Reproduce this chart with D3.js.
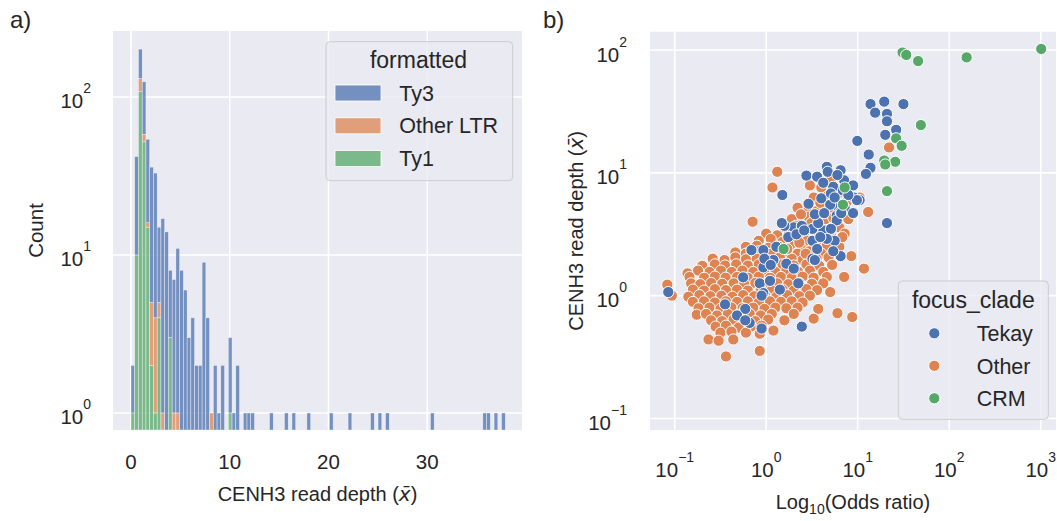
<!DOCTYPE html>
<html>
<head>
<meta charset="utf-8">
<script src="https://cdn.jsdelivr.net/npm/d3@7"></script>
<style>
  body { margin: 0; background: #ffffff; }
  svg { display: block; }
  text { font-family: "Liberation Sans", Arial, sans-serif; fill: #262626; }
</style>
</head>
<body>
<svg id="fig" width="1057" height="521"></svg>
<script>
// ---------- Panel a: stacked histogram of CENH3 read depth ----------
const binStart = 0.0;
const binWidth = 0.379;
const ty3Counts = [
  1,32,70,67,38,31,29,10,16,14,
  5,6,10,8,6,3,4,2,2,9,
  4,0,2,1,2,0,2,1,2,0,
  1,1,1,0,0,0,0,1,0,0,
  0,1,0,1,0,0,0,1,0,0,
  0,0,0,1,0,0,0,0,1,0,
  0,0,0,0,1,0,1,0,1,0,
  0,0,0,0,0,0,0,0,0,0,
  1,0,0,0,0,0,0,0,0,0,
  0,0,0,0,1,1,0,1,0,1
];
const otherLtrCounts = [
  0,0,23,6,1,3,3,1,1,0,
  0,1,1,0,0,0,0,0,0,0,
  0,1,0,0,0,0,0,0,0,0
];
const ty1Counts = [
  1,10,108,52,15,2,1,4,0,0,
  3,0,0,0,0,0,0,0,0,0,
  0,0,0,0,0,0,1,0,0,0
];
const histLegend = ["Ty3", "Other LTR", "Ty1"];
const histXTicks = [0, 10, 20, 30];
const histYTicks = [[1, "0"], [10, "1"], [100, "2"]];

// ---------- Panel b: odds ratio vs read depth, by clade ----------
const tekayPts = [
  [13.8,36.3],[19.5,38.0],[31.6,36.3],[15.5,30.9],[20.9,30.2],[20.9,26.3],[26.3,22.4],[20.0,20.4],
  [9.9,18.2],[13.2,14.1],[13.8,11.0],[12.3,9.8],[20.9,3.9],
  [2.75,9.5],[3.6,9.3],[4.6,11.2],[4.7,10.2],[6.5,10.5],[7.1,8.7],[8.9,7.9],[9.1,6.3],[4.0,6.2],
  [5.4,7.7],[6.2,5.2],[5.9,4.5],[1.5,6.6],[2.0,3.6],[4.2,3.4],[3.2,2.0],[5.6,2.8],
  [5.1,6.8],[6.9,7.2],[10.5,6.0],[7.2,5.2],[6.5,4.8],[5.9,4.1],[1.58,3.7],[2.5,3.4],[3.2,3.5],
  [5.1,3.5],[3.2,2.8],[4.6,2.9],[6.5,2.1],[3.9,3.0],[2.45,3.7],[0.93,1.7],[1.2,1.95],[1.66,1.82],
  [2.0,1.66],[0.85,1.26],[0.93,1.05],[3.4,1.95],[1.29,2.5],[0.69,2.35],[0.93,2.35],[1.1,1.32],
  [0.89,1.0],[0.355,0.85],[0.59,0.78],[0.48,0.69],[0.66,0.6],[0.89,0.54],[0.085,1.07],[1.48,3.9],
  [2.45,0.56],[0.59,0.63],[1.74,3.0],[2.14,3.16],[5.0,5.5],[6.6,4.7],[8.9,4.7],[9.8,6.0],
  [2.6,3.4],[3.7,3.9],[0.955,2.0],[1.12,1.78],[1.41,1.12],[0.56,1.41],[2.24,1.26],
  [3.4,4.6],[4.3,4.7],[5.6,6.3],[7.9,6.6],[2.9,5.6],[3.6,2.4],[5.4,2.3],[4.2,8.3],[6.0,9.6]
];
const otherPts = [
  [1.32,10.2],[1.17,7.6],[3.0,7.9],[4.0,7.6],[5.1,8.9],
  [3.3,6.3],[5.2,6.0],[10.5,6.3],
  [2.2,5.2],[4.2,5.4],[6.9,5.1],
  [2.8,4.8],[5.0,4.6],[13.0,4.8],
  [0.71,4.0],[1.9,4.2],[2.5,3.9],[3.5,4.1],[6.0,3.9],[7.9,4.2],
  [1.58,3.6],[2.1,3.7],[3.0,3.5],[4.6,3.7],[6.3,3.6],
  [1.0,3.2],[1.32,3.1],[1.78,3.3],[2.6,3.1],[3.8,3.2],[5.2,3.0],[7.2,3.2],
  [0.83,2.8],[1.12,2.9],[1.51,2.75],[2.0,2.85],[2.8,2.8],[4.2,2.9],[5.6,2.75],
  [0.60,2.5],[0.79,2.55],[1.05,2.45],[1.38,2.5],[1.82,2.55],[2.4,2.45],[3.3,2.5],[4.6,2.55],[6.3,2.5],
  [0.46,2.25],[0.60,2.2],[0.83,2.3],[1.15,2.2],[1.58,2.25],[2.2,2.2],[2.95,2.3],[4.0,2.2],[8.5,2.1],
  [0.26,2.0],[0.35,1.95],[0.46,2.05],[0.60,1.98],[0.79,2.0],[1.05,1.95],[1.41,2.05],[1.9,2.0],[2.5,1.95],[3.55,2.0],[4.8,2.05],
  [0.20,1.75],[0.275,1.8],[0.355,1.76],[0.47,1.8],[0.63,1.76],[0.83,1.8],[1.12,1.75],[1.51,1.8],[2.0,1.76],[2.75,1.8],[3.8,1.75],[5.25,1.78],
  [0.138,1.52],[0.18,1.6],[0.24,1.56],[0.32,1.6],[0.42,1.56],[0.55,1.6],[0.72,1.56],[0.955,1.6],[1.26,1.56],[1.66,1.6],[2.24,1.56],[3.0,1.6],[4.2,1.56],[11.7,1.66],
  [0.145,1.42],[0.21,1.4],[0.275,1.43],[0.36,1.4],[0.48,1.42],[0.63,1.4],[0.83,1.43],[1.1,1.4],[1.45,1.42],[1.9,1.4],[2.5,1.43],[3.3,1.4],[4.6,1.42],[7.1,1.42],
  [0.083,1.23],[0.151,1.26],[0.19,1.24],[0.25,1.27],[0.33,1.25],[0.44,1.26],[0.575,1.24],[0.76,1.27],[1.0,1.25],[1.32,1.26],[1.74,1.24],[2.3,1.27],[3.16,1.25],[4.2,1.26],
  [0.158,1.12],[0.209,1.1],[0.275,1.13],[0.363,1.11],[0.48,1.12],[0.63,1.1],[0.87,1.13],[1.15,1.11],[1.51,1.12],[2.0,1.1],[2.75,1.13],[3.6,1.11],
  [0.093,1.0],[0.141,0.98],[0.186,1.01],[0.245,0.99],[0.324,1.0],[0.427,0.98],[0.56,1.01],[0.74,0.99],[0.977,1.0],[1.29,0.98],[1.7,1.01],[2.3,0.99],[3.0,1.0],[5.0,1.07],
  [0.158,0.89],[0.209,0.9],[0.275,0.88],[0.363,0.9],[0.48,0.89],[0.63,0.9],[0.83,0.88],[1.1,0.9],[1.45,0.89],[1.9,0.9],[2.5,0.88],
  [0.182,0.79],[0.24,0.8],[0.316,0.78],[0.417,0.8],[0.55,0.79],[0.72,0.8],[0.955,0.78],[1.26,0.8],[1.66,0.79],[2.2,0.8],[3.7,0.78],
  [0.174,0.7],[0.22,0.71],[0.29,0.69],[0.38,0.71],[0.5,0.7],[0.66,0.71],[0.87,0.69],[1.15,0.71],[2.0,0.71],[6.0,0.72],
  [0.25,0.63],[0.33,0.62],[0.44,0.64],[0.575,0.63],[0.76,0.62],[1.05,0.64],[1.58,0.63],[3.3,0.65],[8.7,0.67],
  [0.28,0.56],[0.363,0.57],[0.5,0.55],[0.68,0.56],[0.89,0.57],
  [0.316,0.5],[0.417,0.51],[0.6,0.5],[0.85,0.49],[1.2,0.52],
  [0.234,0.44],[0.302,0.43],[0.437,0.44],
  [0.85,0.355],[0.363,0.32],[22,16.1],
  [2.9,4.4],[3.6,4.9],[4.4,4.2],[5.4,4.3],[3.9,5.7],[4.8,6.6],[6.3,6.9],[7.6,5.8],
  [2.4,4.6],[3.1,3.9],[4.9,3.3],[6.8,3.0],[2.3,2.7],[3.5,2.7],[1.7,2.4],[2.7,2.2]
];
const crmPts = [
  [30.9,95.5],[33.9,91.2],[45.7,81.3],[155,87.1],[1012,102],[49.0,24.5],[26.3,19.1],[30.2,16.6],
  [19.5,12.6],[25.7,12.3],[20.0,11.7],[20.9,7.1],[7.2,7.6],[6.9,5.5],[1.55,2.4]
];
const cladeLegend = ["Tekay", "Other", "CRM"];
const scatterXTicks = [[0.1, "\u22121"], [1, "0"], [10, "1"], [100, "2"], [1000, "3"]];
const scatterYTicks = [[0.1, "\u22121"], [1, "0"], [10, "1"], [100, "2"]];

// seaborn "deep" colours
const BLUE = "#4c72b0", ORANGE = "#dd8452", GREEN = "#55a868";
const BG = "#eaeaf2";

const svg = d3.select("#fig");

// ----- helpers -----
function powerLabel(g, x, y, exp, anchor) {
  const t = g.append("text").attr("x", x).attr("y", y)
    .attr("text-anchor", anchor).style("font-size", "20.5px");
  t.append("tspan").text("10");
  t.append("tspan").attr("dy", -15).style("font-size", "14px").text(exp);
  return t;
}

// ================= Panel a =================
const A = { x0: 113, x1: 522, y0: 31, y1: 430 };
const xH = d3.scaleLinear().domain([-1.82, 39.59]).range([A.x0, A.x1]);
const yH = d3.scaleLog().domain([0.78, 261.6]).range([A.y1, A.y0]);

const ga = svg.append("g");
ga.append("rect").attr("x", A.x0).attr("y", A.y0)
  .attr("width", A.x1 - A.x0).attr("height", A.y1 - A.y0).attr("fill", BG);

ga.selectAll("line.gx").data(histXTicks).join("line")
  .attr("x1", d => xH(d)).attr("x2", d => xH(d))
  .attr("y1", A.y0).attr("y2", A.y1)
  .attr("stroke", "#fff").attr("stroke-width", 1.6);
ga.selectAll("line.gy").data(histYTicks).join("line")
  .attr("y1", d => yH(d[0])).attr("y2", d => yH(d[0]))
  .attr("x1", A.x0).attr("x2", A.x1)
  .attr("stroke", "#fff").attr("stroke-width", 1.6);

// stacked bars: Ty1 at the bottom, Other LTR, then Ty3 on top
const stackOrder = [
  { counts: ty1Counts, color: GREEN },
  { counts: otherLtrCounts, color: ORANGE },
  { counts: ty3Counts, color: BLUE }
];
const bars = [];
ty3Counts.forEach((_, i) => {
  let base = 0;
  stackOrder.forEach(s => {
    const c = s.counts[i] || 0;
    if (c > 0) {
      bars.push({ i, lo: base, hi: base + c, color: s.color });
      base += c;
    }
  });
});
ga.append("clipPath").attr("id", "clipA").append("rect")
  .attr("x", A.x0).attr("y", A.y0).attr("width", A.x1 - A.x0).attr("height", A.y1 - A.y0);
ga.append("g").attr("clip-path", "url(#clipA)")
  .selectAll("rect").data(bars).join("rect")
  .attr("x", d => xH(binStart + d.i * binWidth))
  .attr("width", d => xH(binStart + (d.i + 1) * binWidth) - xH(binStart + d.i * binWidth))
  .attr("y", d => yH(d.hi))
  .attr("height", d => (d.lo > 0 ? yH(d.lo) : A.y1) - yH(d.hi))
  .attr("fill", d => d.color).attr("fill-opacity", 0.75)
  .attr("stroke", "#fff").attr("stroke-opacity", 0.75).attr("stroke-width", 0.5);

// axis tick labels
ga.selectAll("text.xt").data(histXTicks).join("text")
  .attr("x", d => xH(d)).attr("y", 469).attr("text-anchor", "middle")
  .style("font-size", "20.5px").text(d => d);
histYTicks.forEach(d => powerLabel(ga, 91, yH(d[0]) + 11.3, d[1], "end"));

ga.append("text").attr("x", (A.x0 + A.x1) / 2).attr("y", 501).attr("text-anchor", "middle")
  .style("font-size", "20px")
  .call(t => {
    t.append("tspan").text("CENH3 read depth (");
    t.append("tspan").style("font-family", "'DejaVu Sans'").style("font-style", "italic").text("x\u0304");
    t.append("tspan").text(")");
  });
ga.append("text").attr("transform", `translate(42.5,${(A.y0 + A.y1) / 2}) rotate(-90)`)
  .attr("text-anchor", "middle").style("font-size", "20.5px").text("Count");
svg.append("text").attr("x", 10).attr("y", 28).style("font-size", "24px").text("a)");

// legend
const la = ga.append("g");
la.append("rect").attr("x", 326).attr("y", 41.7).attr("width", 186.7).attr("height", 139)
  .attr("rx", 4).attr("fill", BG).attr("fill-opacity", 0.8)
  .attr("stroke", "#cccccc").attr("stroke-width", 1);
la.append("text").attr("x", 418.5).attr("y", 68.3).attr("text-anchor", "middle")
  .style("font-size", "23px").text("formatted");
const histLegendColors = [BLUE, ORANGE, GREEN];
histLegend.forEach((name, k) => {
  const top = 85 + k * 32.8;
  la.append("rect").attr("x", 335).attr("y", top).attr("width", 46).attr("height", 16)
    .attr("fill", histLegendColors[k]).attr("fill-opacity", 0.75)
    .attr("stroke", "#fff").attr("stroke-width", 0.8);
  la.append("text").attr("x", 399.3).attr("y", top + 15.5)
    .style("font-size", "21.5px").text(name);
});

// ================= Panel b =================
const B = { x0: 650, x1: 1056, y0: 31.7, y1: 430 };
const xS = d3.scaleLog().domain([0.0537, 1469]).range([B.x0, B.x1]);
const yS = d3.scaleLog().domain([0.0806, 141]).range([B.y1, B.y0]);

const gb = svg.append("g");
gb.append("rect").attr("x", B.x0).attr("y", B.y0)
  .attr("width", B.x1 - B.x0).attr("height", B.y1 - B.y0).attr("fill", BG);
gb.selectAll("line.gx").data(scatterXTicks).join("line")
  .attr("x1", d => xS(d[0])).attr("x2", d => xS(d[0]))
  .attr("y1", B.y0).attr("y2", B.y1)
  .attr("stroke", "#fff").attr("stroke-width", 1.6);
gb.selectAll("line.gy").data(scatterYTicks).join("line")
  .attr("y1", d => yS(d[0])).attr("y2", d => yS(d[0]))
  .attr("x1", B.x0).attr("x2", B.x1)
  .attr("stroke", "#fff").attr("stroke-width", 1.6);

gb.append("clipPath").attr("id", "clipB").append("rect")
  .attr("x", B.x0).attr("y", B.y0).attr("width", B.x1 - B.x0).attr("height", B.y1 - B.y0);
const pts = gb.append("g").attr("clip-path", "url(#clipB)");
[[otherPts, ORANGE], [tekayPts, BLUE], [crmPts, GREEN]].forEach(([data, color]) => {
  pts.append("g").selectAll("circle").data(data).join("circle")
    .attr("cx", d => xS(d[0])).attr("cy", d => yS(d[1])).attr("r", 5.6)
    .attr("fill", color).attr("stroke", "#fff").attr("stroke-width", 1);
});

scatterXTicks.forEach(d => powerLabel(gb, xS(d[0]), 476.7, d[1], "middle"));
scatterYTicks.forEach(d => powerLabel(gb, 627, yS(d[0]) + 11.5, d[1], "end"));

gb.append("text").attr("x", (B.x0 + B.x1) / 2).attr("y", 509).attr("text-anchor", "middle")
  .style("font-size", "20px")
  .call(t => {
    t.append("tspan").text("Log");
    t.append("tspan").attr("dy", 5).style("font-size", "14px").text("10");
    t.append("tspan").attr("dy", -5).text("(Odds ratio)");
  });
gb.append("text").attr("transform", `translate(583,${(B.y0 + B.y1) / 2}) rotate(-90)`)
  .attr("text-anchor", "middle").style("font-size", "20px")
  .call(t => {
    t.append("tspan").text("CENH3 read depth (");
    t.append("tspan").style("font-family", "'DejaVu Sans'").style("font-style", "italic").text("x\u0304");
    t.append("tspan").text(")");
  });
svg.append("text").attr("x", 543).attr("y", 28).style("font-size", "24px").text("b)");

// legend
const lb = gb.append("g");
lb.append("rect").attr("x", 898.3).attr("y", 281).attr("width", 150).attr("height", 138.3)
  .attr("rx", 4).attr("fill", BG).attr("fill-opacity", 0.8)
  .attr("stroke", "#cccccc").attr("stroke-width", 1);
lb.append("text").attr("x", 973.3).attr("y", 308.3).attr("text-anchor", "middle")
  .style("font-size", "23px").text("focus_clade");
const cladeColors = [BLUE, ORANGE, GREEN];
cladeLegend.forEach((name, k) => {
  const cy = 333.3 + k * 32.5;
  lb.append("circle").attr("cx", 934.3).attr("cy", cy).attr("r", 5.6)
    .attr("fill", cladeColors[k]).attr("stroke", "#fff").attr("stroke-width", 1);
  lb.append("text").attr("x", 976.7).attr("y", cy + 8)
    .style("font-size", "21.5px").text(name);
});
</script>
</body>
</html>
